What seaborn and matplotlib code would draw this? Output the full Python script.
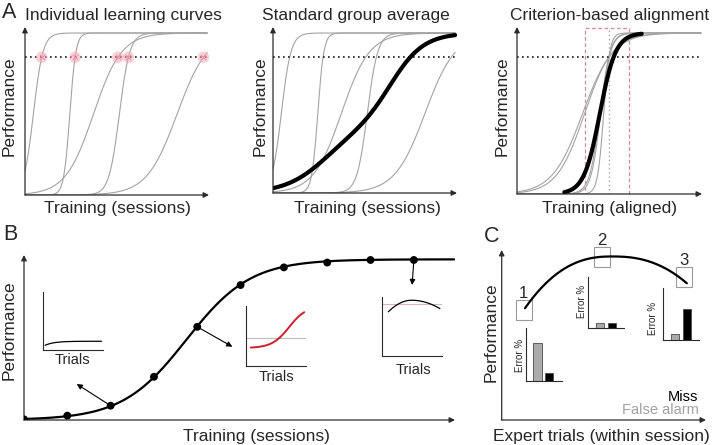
import numpy as np
import pandas as pd
import matplotlib
matplotlib.use('Agg')
import matplotlib.pyplot as plt
from matplotlib.patches import Rectangle
import seaborn as sns

sns.set_theme(style='white')
plt.rcParams['font.family'] = ['Liberation Sans', 'DejaVu Sans']

# ---------------- data ----------------
# Panel A: five individual (schematic) learning curves, logistic parameters
curve_names = ['animal 1', 'animal 2', 'animal 3', 'animal 4', 'animal 5']
curve_mid = [0.46, 2.46, 3.76, 5.18, 8.35]
curve_slope = [3.8, 6.0, 1.3, 3.5, 1.2]
criterion = 0.85

# standard group average (mixture of two logistic components)
group_avg_weight = [0.4, 0.6]
group_avg_mid = [2.8, 6.5]
group_avg_slope = [0.9, 1.1]

# criterion-aligned average
aligned_cross = 5.05
aligned_avg_mid = 4.55
aligned_avg_slope = 2.3
aligned_avg_span = [2.6, 6.85]
aligned_window = [3.74, 6.17]

# Panel B: session-wise performance
sessions = [0, 1, 2, 3, 4, 5, 6, 7, 8, 9]
session_perf = [0.004, 0.027, 0.089, 0.269, 0.58, 0.84, 0.95, 0.98, 0.996, 0.996]
session_fit_mid = 3.75
session_fit_slope = 1.35
inset_sessions = [2, 4, 9]

# within-session insets (trials)
early_plateau, early_rise, early_tau = 0.15, 0.09, 0.15
mid_base, mid_gain, mid_slope, mid_mid, mid_ref = 0.30, 0.70, 7.0, 0.72, 0.467
late_peak_x, late_peak_y, late_left, late_right, late_ref = 0.5, 0.94, 1.28, 0.64, 0.877

# Panel C: within-session expert performance
arc_span = [1.14, 9.06]
arc_peak = [5.4, 0.962]
arc_coef = [0.0094, 0.007]
arc_power = 2.4
box_labels = ['1', '2', '3']
box_x = [1.08, 4.92, 8.94]
box_y = [0.649, 0.959, 0.839]
error_types = ['False alarm', 'Miss']
error_fa = [73, 10, 11]
error_miss = [15, 10, 59]

# ---------------- helpers ----------------
W, H = 712, 445
fig = plt.figure(figsize=(W / 100, H / 100), dpi=100)
FS = 12.5
GREY = '#a3a3a3'
AX_COL = '#2b2b2b'


def px_axes(x0, y0, x1, y1):
    ax = fig.add_axes([x0 / W, 1 - y1 / H, (x1 - x0) / W, (y1 - y0) / H])
    ax.patch.set_alpha(0)
    ax.set_xticks([])
    ax.set_yticks([])
    for s in ax.spines.values():
        s.set_visible(False)
    return ax


def inset_frame(ax):
    for side in ['left', 'bottom']:
        ax.spines[side].set_visible(True)
        ax.spines[side].set_color(AX_COL)
        ax.spines[side].set_linewidth(0.8)
    ax.set_xlabel('')
    ax.set_ylabel('')


def ftext(x, y, s, **kw):
    fig.text(x / W, 1 - y / H, s, **kw)


def axis_arrows(ax):
    kw = dict(arrowstyle='-|>', color=AX_COL, lw=0.9, shrinkA=0, shrinkB=0,
              mutation_scale=8)
    ax.annotate('', xy=(1, 0), xytext=(0, 0), xycoords='axes fraction', arrowprops=kw)
    ax.annotate('', xy=(0, 1), xytext=(0, 0), xycoords='axes fraction', arrowprops=kw)


def logistic(x, k, m):
    return 1.0 / (1.0 + np.exp(-k * (x - m)))


logit_c = np.log(criterion / (1 - criterion))
cross_x = [m + logit_c / k for k, m in zip(curve_slope, curve_mid)]
xs = np.linspace(0, 10, 500)

# ---------------- Panel A1 ----------------
a1 = px_axes(25, 27, 209, 195)
a1.set_xlim(0, 10.1)
a1.set_ylim(0, 1.037)
for k, m in zip(curve_slope, curve_mid):
    sns.lineplot(x=xs, y=logistic(xs, k, m), ax=a1, color=GREY, lw=0.8)
a1.plot([0, 10], [criterion, criterion], ls=(0, (1, 2)), color='k', lw=1.2)
sns.scatterplot(x=cross_x, y=[criterion] * len(cross_x), ax=a1, s=70,
                color='#f5a9b8', alpha=0.55, edgecolor='none', zorder=5)
sns.scatterplot(x=cross_x, y=[criterion] * len(cross_x), ax=a1, s=14, marker='x',
                color='#e98ea0', linewidth=0.7, zorder=6)
axis_arrows(a1)

# ---------------- Panel A2 ----------------
a2 = px_axes(273, 27, 457, 193)
a2.set_xlim(0, 10.1)
a2.set_ylim(0, 1.0375)
for k, m in zip(curve_slope, curve_mid):
    sns.lineplot(x=xs, y=logistic(xs, k, m), ax=a2, color=GREY, lw=0.8)
a2.plot([0, 10], [criterion, criterion], ls=(0, (1, 2)), color='k', lw=1.2)
avg = sum(w * logistic(xs, k, m) for w, k, m in
          zip(group_avg_weight, group_avg_slope, group_avg_mid))
sns.lineplot(x=xs, y=avg, ax=a2, color='black', lw=3.0)
axis_arrows(a2)

# ---------------- Panel A3 ----------------
a3 = px_axes(517, 27, 702, 194)
a3.set_xlim(0, 10.16)
a3.set_ylim(0, 1.037)
xs3 = np.linspace(0, 10.1, 500)
for k, m, xc in zip(curve_slope, curve_mid, cross_x):
    shift = aligned_cross - xc
    sns.lineplot(x=xs3, y=logistic(xs3, k, m + shift), ax=a3, color=GREY, lw=0.8)
a3.plot([0, 10.1], [criterion, criterion], ls=(0, (1, 2)), color='k', lw=1.2)
a3.add_patch(Rectangle((aligned_window[0], 0), aligned_window[1] - aligned_window[0], 1.03,
                       fill=False, ls=(0, (3, 2)), ec='#d98a94', lw=0.9))
a3.plot([aligned_cross, aligned_cross], [0, 1.03], ls=(0, (1, 2)), color='#b7a0a6', lw=1.0)
xa = np.linspace(aligned_avg_span[0], aligned_avg_span[1], 300)
sns.lineplot(x=xa, y=logistic(xa, aligned_avg_slope, aligned_avg_mid), ax=a3,
             color='black', lw=3.0)
axis_arrows(a3)

# Panel A texts
ftext(1.5, 18.5, 'A', fontsize=15.5, va='baseline', ha='left')
for cx, title in [(123.3, 'Individual learning curves'), (356, 'Standard group average'),
                  (610, 'Criterion-based alignment')]:
    ftext(cx, 20, title, fontsize=FS, ha='center', va='baseline')
for cx, lab in [(117, 'Training (sessions)'), (367, 'Training (sessions)'),
                (609, 'Training (aligned)')]:
    ftext(cx, 213, lab, fontsize=FS, ha='center', va='baseline')
for cx in [9, 260.5, 502.5]:
    ftext(cx, 106, 'Performance', fontsize=FS, ha='center', va='center', rotation=90)

# ---------------- Panel B ----------------
b = px_axes(24, 255, 455, 420)
b.set_xlim(0, 9.95)
b.set_ylim(0, 1.027)
xb = np.linspace(0, 9.93, 400)
sns.lineplot(x=xb, y=logistic(xb, session_fit_slope, session_fit_mid), ax=b,
             color='black', lw=1.6)
sns.scatterplot(x=sessions, y=session_perf, ax=b, s=32, color='black',
                edgecolor='none', zorder=6)
axis_arrows(b)
arrow_kw = dict(arrowstyle='-|>', color='black', lw=0.8, shrinkA=0, shrinkB=0,
                mutation_scale=8)
arrow_targets = [(1.216, 0.224), (4.81, 0.456), (8.96, 0.84)]
for s_idx, tgt in zip(inset_sessions, arrow_targets):
    b.annotate('', xy=tgt, xytext=(sessions[s_idx], session_perf[s_idx]),
               arrowprops=arrow_kw)

# inset 1: early session
ib1 = px_axes(42.7, 291.7, 103.3, 350)
ib1.set_xlim(0, 1)
ib1.set_ylim(0, 1)
xi = np.linspace(0.04, 0.97, 100)
sns.lineplot(x=xi, y=early_plateau - early_rise * np.exp(-xi / early_tau), ax=ib1,
             color='black', lw=0.9)
inset_frame(ib1)

# inset 2: middle session
ib2 = px_axes(246, 306, 306, 366)
ib2.set_xlim(0, 1)
ib2.set_ylim(0, 1)
ib2.plot([0, 1], [mid_ref, mid_ref], color='#bdbdbd', lw=0.8)
xi = np.linspace(0.08, 0.97, 100)
sns.lineplot(x=xi, y=mid_base + mid_gain * logistic(xi, mid_slope, mid_mid), ax=ib2,
             color='#d0202e', lw=1.4)
inset_frame(ib2)

# inset 3: late session
ib3 = px_axes(381.7, 296.7, 441.7, 356)
ib3.set_xlim(0, 1)
ib3.set_ylim(0, 1)
ib3.plot([0, 1], [late_ref, late_ref], color='#d4b5ba', lw=0.8)
xi = np.linspace(0.11, 0.97, 100)
coef = np.where(xi < late_peak_x, late_left, late_right)
sns.lineplot(x=xi, y=late_peak_y - coef * (xi - late_peak_x) ** 2, ax=ib3,
             color='black', lw=0.9)
inset_frame(ib3)

for cx, cy in [(72.7, 360), (276.7, 377), (413.3, 369.5)]:
    ftext(cx, cy, 'Trials', fontsize=10.5, ha='center', va='center')

ftext(3, 240, 'B', fontsize=15.5, va='baseline', ha='left')
ftext(256.7, 440.5, 'Training (sessions)', fontsize=FS, ha='center', va='baseline')
ftext(9, 330, 'Performance', fontsize=FS, ha='center', va='center', rotation=90)

# ---------------- Panel C ----------------
c = px_axes(501.7, 250, 706, 420)
c.set_xlim(0, 10)
c.set_ylim(0, 1)
xc_ = np.linspace(arc_span[0], arc_span[1], 300)
d = np.abs(xc_ - arc_peak[0])
cf = np.where(xc_ < arc_peak[0], arc_coef[0], arc_coef[1])
sns.lineplot(x=xc_, y=arc_peak[1] - cf * d ** arc_power, ax=c, color='black', lw=1.6)
bw, bh = 0.78, 0.118
for lab, bx, by in zip(box_labels, box_x, box_y):
    c.add_patch(Rectangle((bx - bw / 2, by - bh / 2), bw, bh, fill=False,
                          ec='#9a9a9a', lw=0.8, clip_on=False))
    c.text(bx - 0.02, by + bh / 2 + 0.012, lab, fontsize=12, ha='center', va='baseline',
           clip_on=False)
axis_arrows(c)

bar_boxes = [(525.7, 328.3, 561.7, 381), (588.3, 276.7, 624.3, 328.3),
             (663.3, 288.3, 699.3, 340)]
for i, bb in enumerate(bar_boxes):
    bi = px_axes(*bb)
    df = pd.DataFrame({'type': error_types, 'err': [error_fa[i], error_miss[i]]})
    sns.barplot(data=df, x='type', y='err', hue='type',
                palette={'False alarm': '#ababab', 'Miss': 'black'},
                width=0.71, edgecolor='#4a4a4a', linewidth=0.6, legend=False, ax=bi)
    bi.set_xlim(-1.01, 2.07)
    bi.set_ylim(0, 100)
    bi.set_xticks([])
    bi.set_yticks([])
    inset_frame(bi)

for cx, cy in [(520, 355), (581.7, 301.7), (652.7, 318.3)]:
    ftext(cx, cy, 'Error %', fontsize=7, ha='center', va='center', rotation=90)

ftext(698.5, 396.7, 'Miss', fontsize=10.5, ha='right', va='center', color='black')
ftext(698.5, 410.3, 'False alarm', fontsize=10.5, ha='right', va='center', color='#a0a0a0')

ftext(484, 242.3, 'C', fontsize=15.5, va='baseline', ha='left')
ftext(601, 440.5, 'Expert trials (within session)', fontsize=FS, ha='center', va='baseline')
ftext(491.5, 332.5, 'Performance', fontsize=FS, ha='center', va='center', rotation=90)

fig.savefig('out.png', dpi=100)
